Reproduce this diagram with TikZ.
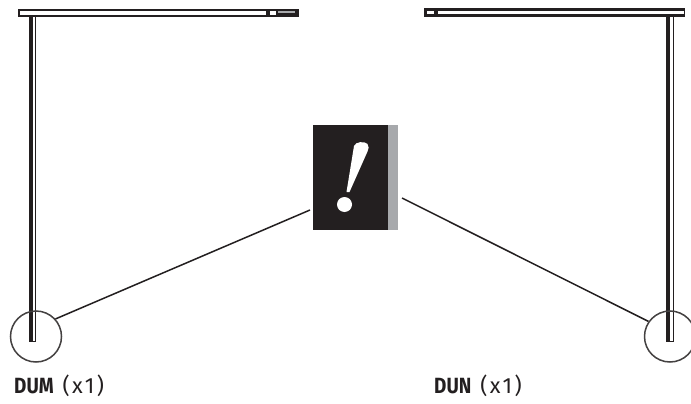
\documentclass[tikz,border=0pt]{standalone}
\usepackage{fontspec}
\setmainfont{Fira Sans}
\newfontfamily\qtyfont[LetterSpace=11]{Fira Sans}
\definecolor{ink}{HTML}{231F20}
\definecolor{bandgray}{HTML}{A7A9AC}
\tikzset{
  x=1pt,y=-1pt,
  leader/.style={draw=ink,line width=1.5pt},
  callout/.style={circle,draw=ink!85,line width=1.5pt,minimum size=51pt,inner sep=0pt,fill=none},
  partlabel/.style={anchor=base west,inner sep=0pt,text=ink,font=\fontsize{22}{22}\selectfont}
}
\begin{document}
\begin{tikzpicture}
\useasboundingbox (0,0) rectangle (691,404);
\fill[white] (0,0) rectangle (691,404);
% left part
\fill[ink] (17.5,9.5) rectangle (299,17);
\fill[white] (19.5,11.5) rectangle (266,15);
\fill[white] (270,11.5) rectangle (276,15);
\fill[bandgray] (278,11.5) rectangle (295,13.5);
\fill[ink] (29,17) rectangle (32.5,341);
\fill[white] (32.5,17) rectangle (35,341);
\draw[ink,line width=1pt] (35.5,17) -- (35.5,341) -- (29,341);
% right part
\fill[ink] (424,8) rectangle (685,17);
\fill[white] (437.5,11.5) rectangle (684,14);
\fill[white] (426.5,11.5) rectangle (434,14);
\fill[ink] (666,17) rectangle (670,341);
\fill[white] (670,17) rectangle (672.5,341);
\draw[ink,line width=1pt] (673,17) -- (673,341) -- (666,341);
% warning box
\fill[ink] (312.5,124.5) rectangle (388,230);
\fill[bandgray] (388,124.5) rectangle (398,230);
\fill[white] (354,146) .. controls (355.5,141.5) and (364.5,141) .. (367.5,144) .. controls (369.5,146) and (368.5,149) .. (367.5,151.5) -- (349.5,192) -- (346.5,192) -- cycle;
\fill[white] (344.5,204.5) circle (7.5);
% callouts
\node[callout] (cl) at (36,336.5) {};
\node[callout] (cr) at (670,336.5) {};
\coordinate (wl) at (310,210);
\coordinate (wr) at (402,198);
\draw[leader] (cl.42) -- (wl);
\draw[leader] (cr.145) -- (wr);
\node[partlabel] (dum) at (14,393) {\scalebox{.86}[1]{\textbf{DUM}}\hspace{9pt}{\qtyfont (x1)}};
\node[partlabel] (dun) at (434,393) {\scalebox{.86}[1]{\textbf{DUN}}\hspace{9pt}{\qtyfont (x1)}};
\end{tikzpicture}
\end{document}
